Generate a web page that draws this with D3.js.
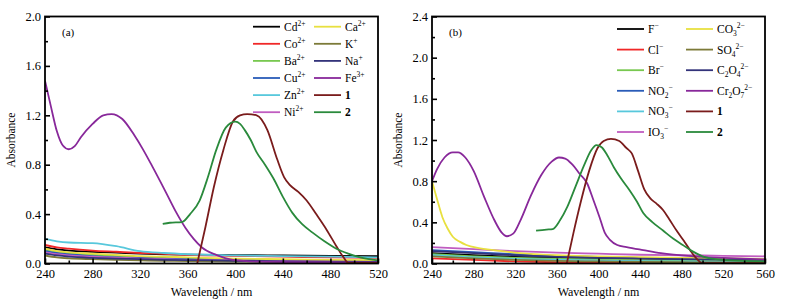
<!DOCTYPE html>
<html lang="en">
<head>
<meta charset="UTF-8">
<title>UV-vis absorbance</title>
<script src="https://d3js.org/d3.v7.min.js"></script>
<style>
  body { margin: 0; background: #fff; }
  svg text { font-family: "Liberation Serif", "Times New Roman", "DejaVu Serif", serif; fill: #000; }
</style>
</head>
<body>
<div id="chart"></div>
<script>
// ---- panel (a): metal ions ----
const wlA = [240, 250, 260, 280, 300, 320, 340, 360, 400, 440, 480, 520];
const cd = [0.13, 0.115, 0.105, 0.095, 0.088, 0.08, 0.075, 0.072, 0.068, 0.065, 0.062, 0.06];
const co = [0.15, 0.13, 0.12, 0.105, 0.095, 0.085, 0.078, 0.07, 0.062, 0.055, 0.05, 0.045];
const ba = [0.11, 0.095, 0.085, 0.07, 0.06, 0.05, 0.045, 0.04, 0.032, 0.028, 0.024, 0.02];
const cu = [0.10, 0.085, 0.075, 0.06, 0.05, 0.045, 0.04, 0.035, 0.03, 0.025, 0.022, 0.02];
const zn = [0.20, 0.18, 0.17, 0.165, 0.14, 0.10, 0.085, 0.075, 0.065, 0.06, 0.055, 0.05];
const ni = [0.09, 0.075, 0.065, 0.055, 0.048, 0.04, 0.035, 0.03, 0.025, 0.022, 0.02, 0.018];
const ca = [0.12, 0.10, 0.09, 0.08, 0.07, 0.06, 0.055, 0.05, 0.04, 0.035, 0.03, 0.028];
const kk = [0.065, 0.05, 0.042, 0.035, 0.03, 0.025, 0.022, 0.02, 0.016, 0.013, 0.011, 0.01];
const na = [0.08, 0.065, 0.055, 0.045, 0.04, 0.035, 0.03, 0.028, 0.022, 0.018, 0.015, 0.012];

const fe = [[240, 1.48], [245, 1.27], [250, 1.07], [255, 0.955], [260, 0.925], [265, 0.95], [270, 1.02],
  [280, 1.13], [289, 1.2], [296, 1.21], [305, 1.17], [315, 1.04], [322, 0.93], [330, 0.79], [342, 0.57],
  [350, 0.42], [358, 0.29], [365, 0.2], [372, 0.13], [384, 0.07], [398, 0.03], [420, 0.015], [460, 0.01], [520, 0.008]];
const c1A = [[368, 0], [375, 0.3], [382, 0.62], [390, 0.92], [398, 1.15], [404, 1.2], [410, 1.21], [418, 1.2],
  [427, 1.08], [435, 0.85], [441, 0.7], [446, 0.635], [453, 0.58], [460, 0.51], [468, 0.4], [477, 0.27],
  [485, 0.14], [491, 0.05], [495, 0.005], [520, 0.005]];
const c2A = [[339, 0.32], [345, 0.33], [355, 0.335], [362, 0.4], [370, 0.51], [377, 0.7], [384, 0.92],
  [392, 1.1], [400, 1.148], [404, 1.13], [408, 1.08], [413, 1.0], [418, 0.9], [425, 0.8], [432, 0.69],
  [440, 0.54], [448, 0.41], [456, 0.32], [465, 0.25], [475, 0.18], [485, 0.12], [495, 0.08], [505, 0.05], [520, 0.025]];

// ---- panel (b): anions ----
const wlB = [240, 280, 320, 360, 400, 440, 480, 520, 560];
const fl = [0.10, 0.08, 0.065, 0.055, 0.045, 0.04, 0.035, 0.03, 0.028];
const cl = [0.05, 0.035, 0.02, 0.012, 0.008, 0.005, 0.004, 0.003, 0.003];
const br = [0.09, 0.07, 0.055, 0.045, 0.04, 0.035, 0.03, 0.028, 0.025];
const no2 = [0.13, 0.11, 0.09, 0.075, 0.065, 0.055, 0.05, 0.045, 0.04];
const no3 = [0.08, 0.06, 0.045, 0.035, 0.028, 0.022, 0.02, 0.018, 0.015];
const io3 = [0.16, 0.14, 0.12, 0.105, 0.095, 0.085, 0.08, 0.075, 0.07];
const so4 = [0.07, 0.05, 0.035, 0.025, 0.02, 0.015, 0.012, 0.01, 0.01];
const c2o4 = [0.12, 0.10, 0.08, 0.065, 0.055, 0.048, 0.042, 0.038, 0.035];

const co3 = [[240, 0.8], [245, 0.62], [250, 0.45], [255, 0.34], [260, 0.26], [267, 0.21], [273, 0.18],
  [285, 0.15], [299, 0.13], [325, 0.1], [360, 0.08], [400, 0.07], [480, 0.055], [560, 0.045]];
const cr2o7 = [[240, 0.8], [245, 0.92], [252, 1.03], [260, 1.08], [265, 1.08], [272, 1.03], [280, 0.9],
  [290, 0.65], [300, 0.42], [307, 0.3], [312, 0.265], [318, 0.29], [325, 0.42], [335, 0.66], [345, 0.86],
  [355, 0.99], [362, 1.03], [368, 1.02], [375, 0.96], [382, 0.87], [389, 0.78], [395, 0.62], [401, 0.45],
  [406, 0.3], [411, 0.23], [418, 0.18], [427, 0.16], [443, 0.13], [460, 0.1], [491, 0.07], [520, 0.055], [560, 0.04]];
const c1B = [[369.5, 0], [376, 0.3], [383, 0.6], [391, 0.9], [399, 1.12], [405, 1.19], [412, 1.21], [420, 1.19],
  [427, 1.12], [432, 1.07], [438, 0.9], [444, 0.72], [450, 0.63], [456, 0.58], [462, 0.52], [468, 0.43],
  [475, 0.32], [482, 0.22], [488, 0.13], [494, 0.05], [500, 0.003], [560, 0.003]];
const c2B = [[340, 0.32], [350, 0.33], [356, 0.335], [363, 0.42], [370, 0.55], [378, 0.75], [386, 0.95],
  [393, 1.1], [398, 1.15], [403, 1.13], [408, 1.06], [415, 0.93], [422, 0.82], [430, 0.71], [437, 0.6],
  [443, 0.49], [452, 0.4], [462, 0.32], [472, 0.24], [481, 0.18], [490, 0.12], [500, 0.07], [515, 0.04], [560, 0.02]];

const zip = (xs, ys) => xs.map((x, i) => [x, ys[i]]);

// label parts: plain text, "_" subscript, "^" superscript
const seriesA = [
  { label: [["Cd"], ["^", "2+"]], color: "#000000", data: zip(wlA, cd) },
  { label: [["Co"], ["^", "2+"]], color: "#f02828", data: zip(wlA, co) },
  { label: [["Ba"], ["^", "2+"]], color: "#78c850", data: zip(wlA, ba) },
  { label: [["Cu"], ["^", "2+"]], color: "#2a5cb8", data: zip(wlA, cu) },
  { label: [["Zn"], ["^", "2+"]], color: "#58c8dc", data: zip(wlA, zn) },
  { label: [["Ni"], ["^", "2+"]], color: "#c05cc0", data: zip(wlA, ni) },
  { label: [["Ca"], ["^", "2+"]], color: "#e8e040", data: zip(wlA, ca) },
  { label: [["K"], ["^", "+"]], color: "#7c7a38", data: zip(wlA, kk) },
  { label: [["Na"], ["^", "+"]], color: "#33337a", data: zip(wlA, na) },
  { label: [["Fe"], ["^", "3+"]], color: "#88289a", data: fe },
  { label: [["1", "b"]], color: "#7a1c1c", data: c1A },
  { label: [["2", "b"]], color: "#2a8a3c", data: c2A }
];
const seriesB = [
  { label: [["F"], ["^", "−"]], color: "#000000", data: zip(wlB, fl) },
  { label: [["Cl"], ["^", "−"]], color: "#f02828", data: zip(wlB, cl) },
  { label: [["Br"], ["^", "−"]], color: "#78c850", data: zip(wlB, br) },
  { label: [["NO"], ["_", "2"], ["^", "−"]], color: "#2a5cb8", data: zip(wlB, no2) },
  { label: [["NO"], ["_", "3"], ["^", "−"]], color: "#58c8dc", data: zip(wlB, no3) },
  { label: [["IO"], ["_", "3"], ["^", "−"]], color: "#c05cc0", data: zip(wlB, io3) },
  { label: [["CO"], ["_", "3"], ["^", "2−"]], color: "#e8e040", data: co3 },
  { label: [["SO"], ["_", "4"], ["^", "2−"]], color: "#7c7a38", data: zip(wlB, so4) },
  { label: [["C"], ["_", "2"], ["O"], ["_", "4"], ["^", "2−"]], color: "#33337a", data: zip(wlB, c2o4) },
  { label: [["Cr"], ["_", "2"], ["O"], ["_", "7"], ["^", "2−"]], color: "#88289a", data: cr2o7 },
  { label: [["1", "b"]], color: "#7a1c1c", data: c1B },
  { label: [["2", "b"]], color: "#2a8a3c", data: c2B }
];

const W = 785, H = 305;
const FONT = '"Liberation Serif", "Times New Roman", "DejaVu Serif", serif';
const svg = d3.select("#chart").append("svg").attr("width", W).attr("height", H)
  .attr("font-family", FONT);

function drawPanel(cfg) {
  const x = d3.scaleLinear().domain(cfg.xDomain).range([cfg.left, cfg.right]);
  const y = d3.scaleLinear().domain(cfg.yDomain).range([263.5, 16.5]);
  const g = svg.append("g");

  const clipId = "clip" + cfg.id;
  g.append("clipPath").attr("id", clipId).append("rect")
    .attr("x", cfg.left).attr("y", 16.5).attr("width", cfg.right - cfg.left).attr("height", 247);

  const line = d3.line().x(d => x(d[0])).y(d => y(d[1])).curve(d3.curveMonotoneX);
  const curves = g.append("g").attr("clip-path", `url(#${clipId})`);
  cfg.series.forEach(s => {
    curves.append("path").datum(s.data).attr("d", line)
      .attr("fill", "none").attr("stroke", s.color).attr("stroke-width", 1.8);
  });

  // axes with inward ticks
  const xMajor = d3.range(cfg.xDomain[0], cfg.xDomain[1] + 1, 40);
  const xMinor = d3.range(cfg.xDomain[0] + 20, cfg.xDomain[1], 40);
  const yMajor = d3.range(0, cfg.yDomain[1] + 0.001, 0.4);
  const yMinor = d3.range(0.2, cfg.yDomain[1], 0.4);

  const ax = g.append("g").attr("transform", "translate(0,263.5)")
    .call(d3.axisBottom(x).tickValues(xMajor).tickSize(-5).tickSizeOuter(0).tickPadding(6).tickFormat(d3.format("d")));
  g.append("g").attr("transform", "translate(0,263.5)")
    .call(d3.axisBottom(x).tickValues(xMinor).tickSize(-3).tickSizeOuter(0).tickFormat(""));
  const ay = g.append("g").attr("transform", `translate(${cfg.left},0)`)
    .call(d3.axisLeft(y).tickValues(yMajor).tickSize(-5).tickSizeOuter(0).tickPadding(4).tickFormat(d3.format(".1f")));
  g.append("g").attr("transform", `translate(${cfg.left},0)`)
    .call(d3.axisLeft(y).tickValues(yMinor).tickSize(-3).tickSizeOuter(0).tickFormat(""));
  g.selectAll(".domain").remove();
  g.selectAll(".tick line").attr("stroke", "#000").attr("stroke-width", 1.6);
  g.selectAll("g").attr("font-family", FONT);
  [ax, ay].forEach(a => a.selectAll("text").style("font-size", "12.5px").attr("fill", "#000"));

  g.append("rect").attr("x", cfg.left).attr("y", 16.5)
    .attr("width", cfg.right - cfg.left).attr("height", 247)
    .attr("fill", "none").attr("stroke", "#000").attr("stroke-width", 1.8);

  g.append("text").attr("x", cfg.left + 17).attr("y", 36).style("font-size", "11px").text(cfg.tag);
  g.append("text").attr("transform", `translate(${cfg.left - 30},140) rotate(-90)`)
    .attr("text-anchor", "middle").style("font-size", "11.5px").text("Absorbance");
  g.append("text").attr("x", (cfg.left + cfg.right) / 2).attr("y", 296)
    .attr("text-anchor", "middle").style("font-size", "12px").text("Wavelength / nm");

  // legend: two columns of six
  const lg = g.append("g");
  cfg.series.forEach((s, i) => {
    const col = Math.floor(i / 6), row = i % 6;
    const cx = cfg.legX[col], ry = cfg.legY + row * cfg.legDy;
    lg.append("line").attr("x1", cx).attr("x2", cx + 27).attr("y1", ry).attr("y2", ry)
      .attr("stroke", s.color).attr("stroke-width", 1.8);
    const t = lg.append("text").attr("x", cx + 31).attr("y", ry + 4).style("font-size", "11.5px");
    let shift = 0;
    s.label.forEach(p => {
      if (p[0] === "_") {
        t.append("tspan").attr("dy", 3 - shift).style("font-size", "7.5px").text(p[1]);
        shift = 3;
      } else if (p[0] === "^") {
        t.append("tspan").attr("dy", -5 - shift).style("font-size", "7.5px").text(p[1]);
        shift = -5;
      } else {
        const ts = t.append("tspan").attr("dy", -shift).text(p[0]);
        if (p[1] === "b") ts.style("font-weight", "bold");
        shift = 0;
      }
    });
  });
}

drawPanel({ id: "a", tag: "(a)", left: 45, right: 378, xDomain: [240, 520], yDomain: [0, 2.0],
  series: seriesA, legX: [253, 314], legY: 26.7, legDy: 17.1 });
drawPanel({ id: "b", tag: "(b)", left: 432, right: 765, xDomain: [240, 560], yDomain: [0, 2.4],
  series: seriesB, legX: [617, 686], legY: 29, legDy: 20.6 });
</script>
</body>
</html>
